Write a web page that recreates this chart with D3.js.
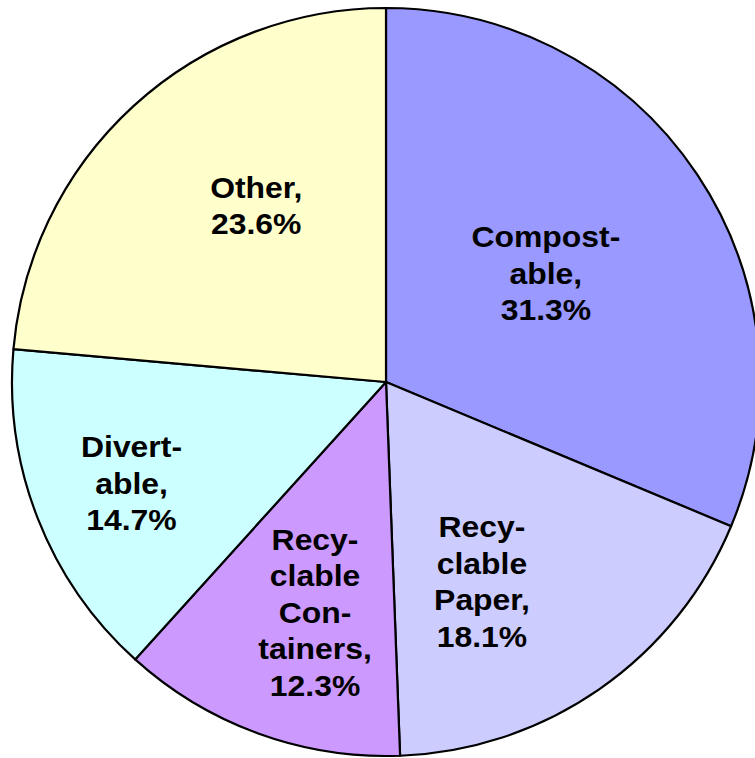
<!DOCTYPE html>
<html>
<head>
<meta charset="utf-8">
<script src="https://cdn.jsdelivr.net/npm/d3@7"></script>
<style>
  body { margin: 0; background: #fff; }
  svg { display: block; }
  .sliceText { font-family: "Liberation Sans", Arial, sans-serif; font-weight: bold; font-size: 29px; fill: #000; }
</style>
</head>
<body>
<div id="pie"></div>
<script>
// chart data
var categories = ["Compostable", "Recyclable Paper", "Recyclable Containers", "Divertable", "Other"];
var shares = [31.3, 18.1, 12.3, 14.7, 23.6];
var labelLines = [
  ["Compost-", "able,", "31.3%"],
  ["Recy-", "clable", "Paper,", "18.1%"],
  ["Recy-", "clable", "Con-", "tainers,", "12.3%"],
  ["Divert-", "able,", "14.7%"],
  ["Other,", "23.6%"]
];
var sliceColors = ["#9999FF", "#CCCCFF", "#CC99FF", "#CCFFFF", "#FFFFCC"];

// label placement: fraction of radius + angle nudge (deg) from slice middle
var labelRadius = [0.516, 0.593, 0.646, 0.733, 0.585];
var labelNudge = [-0.4, 9.1, -2.9, -0.4, 6.1];

var svgWidth = 755;
var svgHeight = 758;
var cx = 386, cy = 382, radius = 374;
var lineHeight = 36.5;

var svg = d3.select("#pie")
  .append("svg")
  .attr("width", svgWidth)
  .attr("height", svgHeight);

var chartGroup = svg.append("g")
  .attr("transform", `translate(${cx}, ${cy})`);

var pie = d3.pie().sort(null).value(d => d);
var arcs = pie(shares);

var arc = d3.arc().innerRadius(0).outerRadius(radius);

chartGroup.selectAll(".slice")
  .data(arcs)
  .enter()
  .append("path")
  .attr("class", "slice")
  .attr("d", arc)
  .attr("fill", (d, i) => sliceColors[i])
  .attr("stroke", "#000")
  .attr("stroke-width", 2.2)
  .attr("stroke-linejoin", "round");

// text in the original is a bit wider than Arial, so stretch it horizontally
var labels = chartGroup.selectAll(".sliceText")
  .data(arcs)
  .enter()
  .append("text")
  .attr("class", "sliceText")
  .attr("text-anchor", "middle")
  .attr("transform", function(d, i) {
    var a = (d.startAngle + d.endAngle) / 2 + labelNudge[i] * Math.PI / 180;
    var r = radius * labelRadius[i];
    return `translate(${r * Math.sin(a)}, ${-r * Math.cos(a)}) scale(1.1, 1)`;
  });

labels.each(function(d, i) {
  var lines = labelLines[i];
  var n = lines.length;
  d3.select(this).selectAll("tspan")
    .data(lines)
    .enter()
    .append("tspan")
    .attr("x", 0)
    .attr("y", (t, j) => (j - (n - 1) / 2) * lineHeight + 10)
    .text(t => t);
});
</script>
</body>
</html>
